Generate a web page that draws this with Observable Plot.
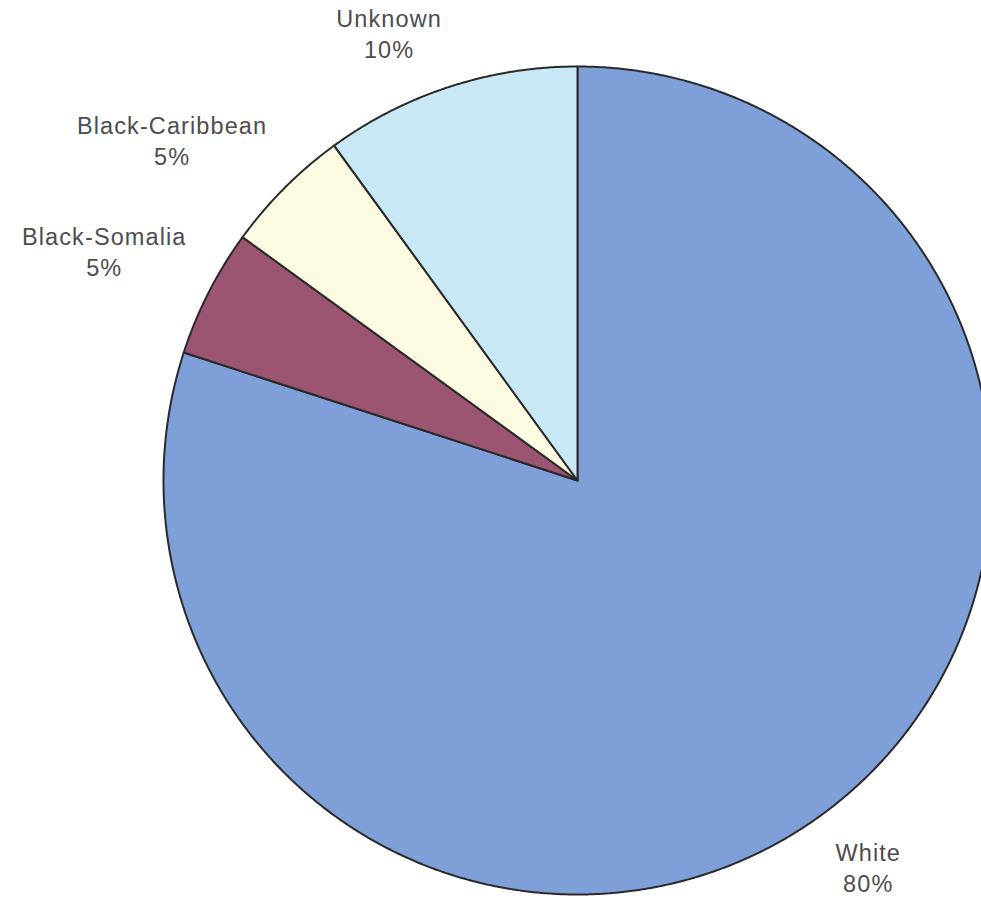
<!DOCTYPE html>
<html>
<head>
<meta charset="utf-8">
<script src="https://cdn.jsdelivr.net/npm/d3@7"></script>
<script src="https://cdn.jsdelivr.net/npm/@observablehq/plot@0.6"></script>
<style>
  html, body { margin: 0; padding: 0; background: #ffffff; overflow: hidden; }
  #chart svg text { letter-spacing: 1.1px; }
</style>
</head>
<body>
<div id="chart"></div>
<script>
const categories = ["White", "Black-Somalia", "Black-Caribbean", "Unknown"];
const percents = [80, 5, 5, 10];
const labels = ["White\n80%", "Black-Somalia\n5%", "Black-Caribbean\n5%", "Unknown\n10%"];
const colors = ["#7f9fd9", "#9c5570", "#fdfbe2", "#c8e8f5"];

const W = 981, H = 899;
const cx = 577, cy = 480, R = 414;           // pixel geometry of the pie
const fontSize = 23.5, letterSp = 1.1;

const arcs = d3.pie().sort(null).value((d, i) => percents[i])
  .startAngle(0).endAngle(2 * Math.PI)(categories);

// slice polygons in unit coordinates (radius 1)
const pts = [];
arcs.forEach((a, i) => {
  const cat = categories[i];
  pts.push({cat, x: 0, y: 0});
  const n = Math.max(4, Math.ceil((a.endAngle - a.startAngle) / 0.005));
  for (let k = 0; k <= n; k++) {
    const t = a.startAngle + (a.endAngle - a.startAngle) * k / n;
    pts.push({cat, x: Math.sin(t), y: Math.cos(t)});
  }
});

// label placement: box corner nearest to the pie sits at 1.06 R on the mid angle
const ctx = document.createElement("canvas").getContext("2d");
ctx.font = `${fontSize}px 'Liberation Sans', Arial, sans-serif`;
const textW = s => ctx.measureText(s).width + letterSp * s.length;
const lineH = 31;
const labelData = arcs.map((a, i) => {
  const m = (a.startAngle + a.endAngle) / 2;
  const ax = Math.sin(m) * 1.06, ay = Math.cos(m) * 1.06;
  const halfW = d3.max(labels[i].split("\n"), textW) / 2 / R;
  const halfH = lineH / R;
  return {
    text: labels[i],
    x: ax + (Math.sin(m) < 0 ? -halfW : halfW),
    y: ay + (Math.cos(m) > 0 ? halfH : -halfH)
  };
});

const chart = Plot.plot({
  width: W,
  height: H,
  margin: 0,
  x: {domain: [(0 - cx) / R, (W - cx) / R], axis: null},
  y: {domain: [(cy - H) / R, cy / R], axis: null},
  color: {domain: categories, range: colors},
  style: {fontFamily: "'Liberation Sans', Arial, sans-serif", background: "#ffffff"},
  marks: [
    Plot.line(pts, {x: "x", y: "y", z: "cat", fill: "cat", stroke: "#2a2a2a",
      strokeWidth: 2, strokeLinejoin: "round", curve: "linear-closed", clip: true}),
    Plot.text(labelData, {x: "x", y: "y", text: "text", fontSize: fontSize,
      fill: "#4d4d4d", lineHeight: lineH / fontSize, lineAnchor: "middle", textAnchor: "middle"})
  ]
});
document.getElementById("chart").appendChild(chart);
</script>
</body>
</html>
